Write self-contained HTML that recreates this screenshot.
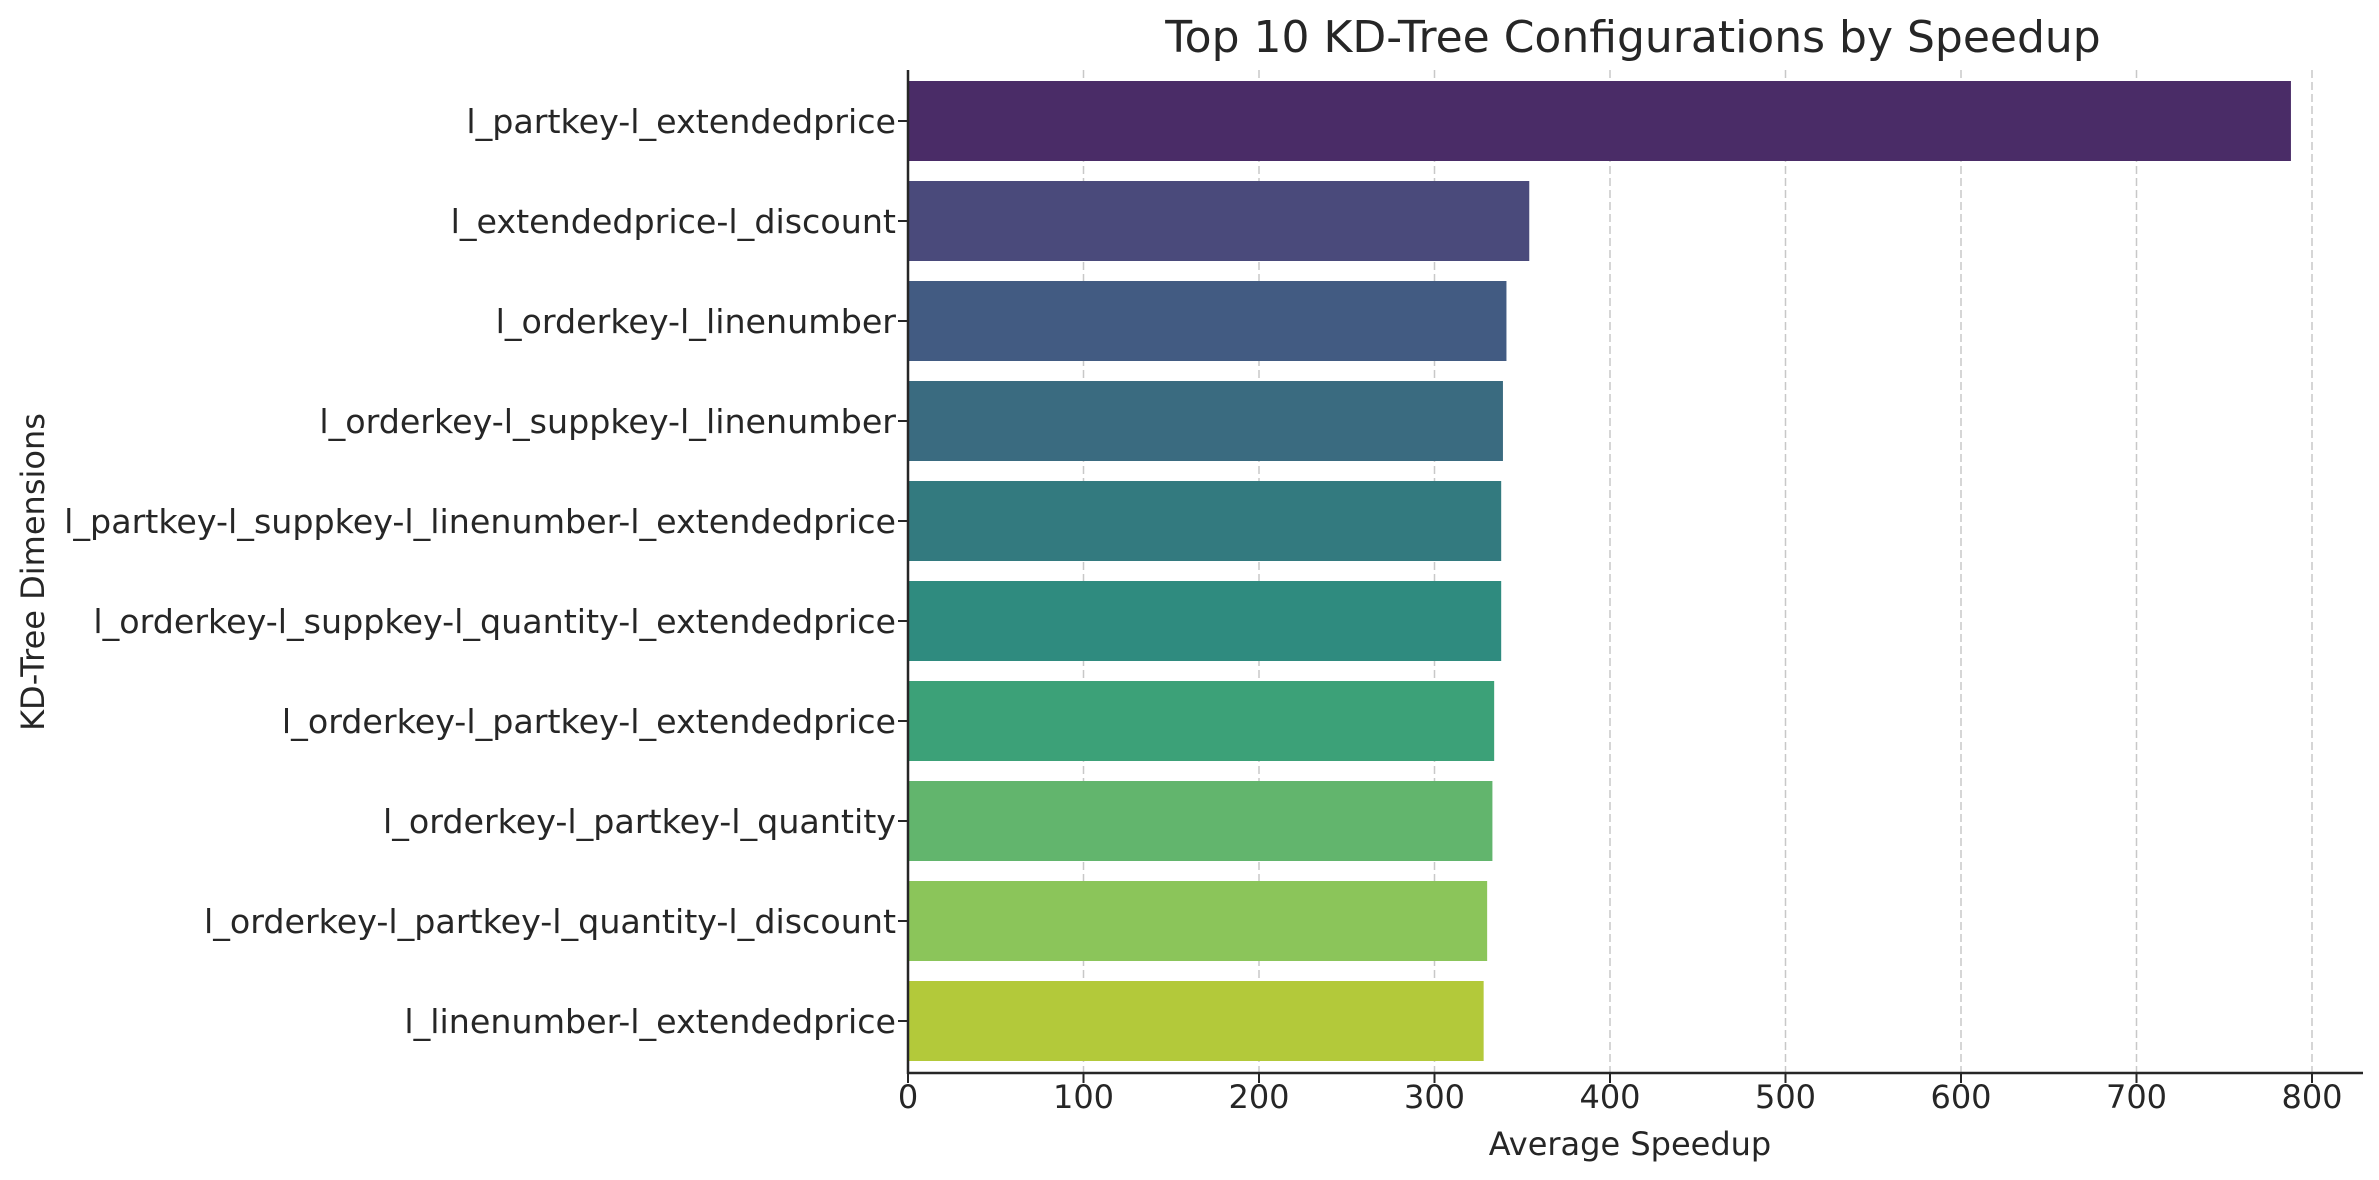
<!DOCTYPE html>
<html><head><meta charset="utf-8"><style>
html,body{margin:0;padding:0;background:#fff;}
svg{display:block;font-family:"DejaVu Sans","Liberation Sans",sans-serif;}
</style></head><body>
<svg id="chart" width="2379" height="1180" viewBox="0 0 2379 1180">
<text x="1633" y="52" text-anchor="middle" font-size="44" fill="#262626">Top 10 KD-Tree Configurations by Speedup</text>
<g id="grid"></g><g id="bars"></g><g id="axes"></g>
<text x="1630" y="1155" text-anchor="middle" font-size="32" fill="#262626">Average Speedup</text>
<text transform="translate(44,572) rotate(-90)" text-anchor="middle" font-size="32" fill="#262626">KD-Tree Dimensions</text>
</svg>
<script>
const categories=["l_partkey-l_extendedprice","l_extendedprice-l_discount","l_orderkey-l_linenumber","l_orderkey-l_suppkey-l_linenumber","l_partkey-l_suppkey-l_linenumber-l_extendedprice","l_orderkey-l_suppkey-l_quantity-l_extendedprice","l_orderkey-l_partkey-l_extendedprice","l_orderkey-l_partkey-l_quantity","l_orderkey-l_partkey-l_quantity-l_discount","l_linenumber-l_extendedprice"];
const speedups=[788,354,341,339,338,338,334,333,330,328];
const xTicks=[0,100,200,300,400,500,600,700,800];
const colors=["#4a2c67","#4a4a7b","#425b82","#3a6b80","#337a7f","#2f8b7f","#3ca178","#62b56d","#8bc55a","#b3c93a"];
const NS="http://www.w3.org/2000/svg";
const X0=908,XR=2363,YT=70,YB=1073,PX=1.755;
const xs=v=>X0+v*PX;
const yc=i=>121+100*i;
function mk(t,a,p){const e=document.createElementNS(NS,t);for(const k in a)e.setAttribute(k,a[k]);p.appendChild(e);return e;}
const grid=document.getElementById('grid'),bars=document.getElementById('bars'),axes=document.getElementById('axes');
xTicks.forEach(t=>{
  if(t>0){const g=mk('line',{x1:xs(t),x2:xs(t),y1:YT,y2:YB,stroke:'#c8c8c8','stroke-width':1.5,'stroke-dasharray':'8,4'},grid);
  
  }
  const tk=mk('line',{x1:xs(t),x2:xs(t),y1:YB,y2:YB+10,stroke:'#262626','stroke-width':2},axes);
  
  
  const l=mk('text',{x:xs(t),y:1108,'text-anchor':'middle','font-size':32,fill:'#262626'},axes);
  l.textContent=t;
  
  
});
categories.forEach((c,i)=>{
  const r=mk('rect',{x:X0,y:yc(i)-40,width:xs(speedups[i])-X0,height:80,fill:colors[i]},bars);
  
  
  const tk=mk('line',{x1:X0-10,x2:X0,y1:yc(i),y2:yc(i),stroke:'#262626','stroke-width':2},axes);
  
  
  const l=mk('text',{x:896,y:yc(i)+12,'text-anchor':'end','font-size':33.3,fill:'#262626'},axes);
  l.textContent=c;
  
  
});
const ya=mk('line',{x1:X0,x2:X0,y1:YT,y2:YB+1,stroke:'#262626','stroke-width':2.5},axes);


const xa=mk('line',{x1:X0-1,x2:XR,y1:YB,y2:YB,stroke:'#262626','stroke-width':2.5},axes);


</script>
</body></html>
